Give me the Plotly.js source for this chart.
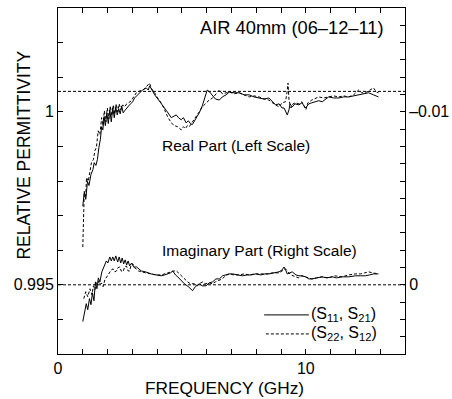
<!DOCTYPE html>
<html>
<head>
<meta charset="utf-8">
<script src="https://cdn.plot.ly/plotly-3.0.1.min.js"></script>
<style>html,body{margin:0;padding:0;background:#fff;}#chart{width:452px;height:399px;}</style>
</head>
<body>
<div id="chart"></div>
<script>
// ---- Data ----
// Real part, (S11,S21) solid, left scale
const freqRealA = [1.00,1.06,1.12,1.19,1.25,1.33,1.41,1.46,1.53,1.59,1.65,1.71,1.76,1.81,1.86,1.91,1.97,2.03,2.09,2.15,2.21,2.27,2.33,2.39,2.45,2.51,2.57,2.63,2.69,2.77,2.85,2.93,3.01,3.09,3.17,3.29,3.41,3.56,3.64,3.70,3.78,3.90,4.06,4.22,4.38,4.57,4.66,4.77,4.86,4.97,5.06,5.17,5.26,5.34,5.42,5.54,5.62,5.70,5.82,5.90,6.02,6.12,6.22,6.35,6.51,6.63,6.78,6.91,7.11,7.31,7.51,7.71,7.91,8.11,8.31,8.51,8.63,8.78,8.92,9.04,9.12,9.20,9.25,9.32,9.36,9.45,9.56,9.72,9.84,9.99,10.12,10.24,10.39,10.52,10.66,10.76,10.92,11.12,11.33,11.53,11.73,11.93,12.13,12.33,12.53,12.73,12.93];
const realA = [0.99727,0.99767,0.99747,0.99799,0.99787,0.99819,0.99833,0.99853,0.99845,0.99862,0.99897,0.99920,0.99957,0.99948,0.99986,0.99960,0.99997,0.99966,1.00006,0.99971,1.00011,0.99983,1.00014,0.99991,1.00009,0.99994,1.00017,0.99997,1.00003,1.00011,1.00017,1.00023,1.00029,1.00040,1.00046,1.00057,1.00063,1.00069,1.00063,1.00075,1.00063,1.00049,1.00034,1.00020,1.00003,0.99983,0.99986,0.99991,0.99983,0.99977,0.99983,0.99968,0.99974,0.99966,0.99963,0.99977,0.99986,0.99997,1.00017,1.00034,1.00063,1.00057,1.00049,1.00037,1.00034,1.00043,1.00049,1.00057,1.00055,1.00055,1.00049,1.00049,1.00043,1.00040,1.00037,1.00040,1.00032,1.00020,1.00023,1.00011,1.00011,1.00000,0.99991,1.00006,1.00023,1.00014,1.00023,1.00020,1.00026,1.00011,1.00023,1.00026,1.00029,1.00032,1.00029,1.00034,1.00043,1.00040,1.00040,1.00043,1.00043,1.00046,1.00049,1.00052,1.00055,1.00049,1.00043];
// Real part, (S22,S12) dashed, left scale
const freqRealB = [1.00,1.02,1.04,1.06,1.12,1.15,1.22,1.29,1.35,1.43,1.49,1.55,1.62,1.69,1.76,1.81,1.87,1.93,1.99,2.05,2.11,2.17,2.23,2.29,2.35,2.41,2.47,2.53,2.61,2.69,2.77,2.85,2.96,3.05,3.16,3.29,3.43,3.53,3.61,3.69,3.78,3.90,4.02,4.16,4.30,4.42,4.57,4.70,4.82,4.97,5.06,5.14,5.22,5.30,5.38,5.46,5.57,5.70,5.82,5.94,6.10,6.24,6.35,6.51,6.63,6.78,6.91,7.11,7.31,7.51,7.71,7.91,8.11,8.31,8.51,8.71,8.92,9.04,9.18,9.24,9.28,9.32,9.40,9.48,9.59,9.72,9.84,10.00,10.08,10.24,10.36,10.52,10.72,10.92,11.12,11.33,11.53,11.73,11.93,12.13,12.25,12.40,12.53,12.73,12.85,12.93];
const realB = [0.99609,0.99661,0.99718,0.99770,0.99756,0.99810,0.99799,0.99833,0.99853,0.99862,0.99888,0.99897,0.99945,0.99934,0.99983,0.99960,1.00003,0.99971,1.00011,0.99980,1.00017,0.99989,1.00020,0.99994,1.00023,1.00000,1.00023,1.00006,1.00020,1.00014,1.00023,1.00026,1.00032,1.00043,1.00055,1.00060,1.00063,1.00069,1.00075,1.00083,1.00066,1.00055,1.00040,1.00026,1.00006,0.99986,0.99968,0.99960,0.99957,0.99948,0.99957,0.99951,0.99960,0.99957,0.99966,0.99974,0.99986,1.00000,1.00014,1.00023,1.00034,1.00040,1.00049,1.00063,1.00052,1.00055,1.00057,1.00052,1.00055,1.00049,1.00043,1.00046,1.00043,1.00037,1.00034,1.00023,1.00014,1.00026,1.00029,1.00057,1.00083,1.00034,1.00011,1.00023,1.00026,1.00023,1.00029,1.00006,1.00026,1.00034,1.00037,1.00043,1.00040,1.00043,1.00046,1.00043,1.00046,1.00043,1.00049,1.00063,1.00055,1.00055,1.00060,1.00069,1.00057,1.00055];
// Imaginary part, (S11,S21) solid, right scale
const freqImagA = [1.00,1.08,1.14,1.20,1.27,1.33,1.39,1.45,1.51,1.57,1.63,1.69,1.77,1.85,1.89,1.95,2.01,2.09,2.15,2.21,2.27,2.33,2.41,2.47,2.53,2.59,2.65,2.71,2.77,2.83,2.89,2.97,3.05,3.17,3.36,3.53,3.76,3.94,4.16,4.30,4.42,4.54,4.63,4.74,4.83,4.98,5.10,5.26,5.43,5.54,5.70,5.82,5.97,6.10,6.24,6.37,6.51,6.64,6.75,6.91,7.04,7.23,7.44,7.63,7.79,7.98,8.19,8.35,8.51,8.71,8.92,9.04,9.12,9.20,9.25,9.36,9.45,9.60,9.72,9.84,9.99,10.12,10.25,10.44,10.65,10.84,11.06,11.24,11.46,11.73,12.00,12.21,12.40,12.57,12.73,12.93];
const imagA = [0.00213,0.00155,0.00109,0.00144,0.00080,0.00115,0.00046,0.00092,-0.00017,0.00023,-0.00040,-0.00017,-0.00075,-0.00103,-0.00121,-0.00138,-0.00126,-0.00161,-0.00138,-0.00161,-0.00138,-0.00167,-0.00132,-0.00161,-0.00126,-0.00155,-0.00121,-0.00144,-0.00115,-0.00138,-0.00109,-0.00126,-0.00103,-0.00103,-0.00080,-0.00075,-0.00063,-0.00057,-0.00052,-0.00057,-0.00063,-0.00069,-0.00080,-0.00057,-0.00046,-0.00023,-0.00006,0.00011,0.00034,0.00011,-0.00006,0.00006,0.00006,-0.00011,-0.00017,-0.00034,-0.00034,-0.00052,-0.00057,-0.00063,-0.00063,-0.00057,-0.00052,-0.00057,-0.00057,-0.00063,-0.00057,-0.00063,-0.00063,-0.00069,-0.00075,-0.00086,-0.00103,-0.00080,-0.00063,-0.00069,-0.00075,-0.00057,-0.00052,-0.00052,-0.00046,-0.00034,-0.00034,-0.00040,-0.00046,-0.00040,-0.00046,-0.00040,-0.00046,-0.00046,-0.00052,-0.00052,-0.00052,-0.00057,-0.00063,-0.00063];
// Imaginary part, (S22,S12) dashed, right scale
const freqImagB = [1.04,1.12,1.20,1.29,1.37,1.43,1.49,1.55,1.62,1.69,1.75,1.82,1.89,1.96,2.03,2.09,2.15,2.22,2.29,2.36,2.41,2.49,2.55,2.62,2.69,2.76,2.83,2.89,2.95,3.02,3.09,3.16,3.25,3.36,3.53,3.76,3.94,4.16,4.34,4.57,4.66,4.77,4.86,4.97,5.10,5.23,5.34,5.50,5.62,5.70,5.84,5.94,6.10,6.22,6.35,6.51,6.63,6.75,6.91,7.11,7.31,7.51,7.71,7.95,8.19,8.43,8.67,8.92,9.04,9.18,9.28,9.40,9.59,9.72,9.84,10.00,10.24,10.44,10.64,10.92,11.16,11.45,11.73,12.00,12.21,12.37,12.53,12.69,12.85,12.93];
const imagB = [0.00080,0.00040,0.00069,0.00023,0.00057,0.00006,0.00029,-0.00011,-0.00023,0.00000,-0.00011,0.00011,-0.00029,-0.00046,-0.00063,-0.00075,-0.00086,-0.00092,-0.00075,-0.00080,-0.00098,-0.00103,-0.00080,-0.00075,-0.00103,-0.00109,-0.00080,-0.00080,-0.00115,-0.00121,-0.00098,-0.00092,-0.00080,-0.00075,-0.00069,-0.00063,-0.00057,-0.00057,-0.00063,-0.00075,-0.00080,-0.00080,-0.00069,-0.00052,-0.00034,-0.00017,-0.00006,-0.00006,0.00006,-0.00006,-0.00017,-0.00006,-0.00011,-0.00006,-0.00017,-0.00029,-0.00034,-0.00052,-0.00063,-0.00057,-0.00057,-0.00063,-0.00057,-0.00063,-0.00063,-0.00063,-0.00069,-0.00069,-0.00080,-0.00092,-0.00075,-0.00057,-0.00046,-0.00040,-0.00052,-0.00046,-0.00034,-0.00040,-0.00046,-0.00040,-0.00052,-0.00046,-0.00057,-0.00063,-0.00063,-0.00069,-0.00075,-0.00069,-0.00063,-0.00063];

// Reference levels: air permittivity (left scale) and zero loss (left 0.995 = right 0)
const refLevels = [1.00059, 0.995];

// Axis ticks and labels
const xTickVals = [0, 10];
const xTickText = ['0', '10'];
const xMinorVals = [1,2,3,4,5,6,7,8,9,11,12,13];
const yTickVals = [0.995, 1.000];
const yTickText = ['0.995', '1'];
const yMinorVals = [0.993,0.994,0.996,0.997,0.998,0.999,1.001,1.002,1.003];
const y2TickVals = [-0.010, 0];
const y2TickText = ['–0.01', '0'];
const y2MinorVals = [-0.016,-0.015,-0.014,-0.013,-0.012,-0.011,-0.009,-0.008,-0.007,-0.006,-0.005,-0.004,-0.003,-0.002,-0.001,0.001,0.002,0.003,0.004];

const seriesNames = ['(S<sub>11</sub>, S<sub>21</sub>)', '(S<sub>22</sub>, S<sub>12</sub>)'];
const labels = {
  title: 'AIR 40mm (06–12–11)',
  real: 'Real Part (Left Scale)',
  imag: 'Imaginary Part (Right Scale)',
  xTitle: 'FREQUENCY (GHz)',
  yTitle: 'RELATIVE PERMITTIVITY'
};

// ---- Drawing ----
const FONT = 'Liberation Sans, Arial, Helvetica, sans-serif';
const DASH = '3px,2px';
const solid = {color:'#000', width:1};
const dashed = {color:'#000', width:1, dash:DASH};

const traces = [
  {x:freqRealA, y:realA, mode:'lines', line:solid, yaxis:'y', showlegend:false, hoverinfo:'skip'},
  {x:freqRealB, y:realB, mode:'lines', line:dashed, yaxis:'y', showlegend:false, hoverinfo:'skip'},
  {x:freqImagA, y:imagA, mode:'lines', line:solid, yaxis:'y2', showlegend:false, hoverinfo:'skip'},
  {x:freqImagB, y:imagB, mode:'lines', line:dashed, yaxis:'y2', showlegend:false, hoverinfo:'skip'}
];

const shapes = refLevels.map(v => ({
  type:'line', xref:'paper', x0:0, x1:1, yref:'y', y0:v, y1:v,
  line:{color:'#000', width:1, dash:DASH}, layer:'below'
}));
// legend samples
shapes.push({type:'line', xref:'paper', yref:'paper', x0:0.594, x1:0.723, y0:0.113, y1:0.113, line:{color:'#000', width:1}});
shapes.push({type:'line', xref:'paper', yref:'paper', x0:0.599, x1:0.723, y0:0.058, y1:0.058, line:{color:'#000', width:1, dash:DASH}});

const ann = (text, x, y, opts) => Object.assign({text, x, y, xref:'paper', yref:'paper', showarrow:false,
  font:{family:FONT, size:15, color:'#000'}, borderpad:0}, opts||{});

const annotations = [
  ann(labels.title, 0.943, 0.945, {xanchor:'right', yanchor:'middle', font:{family:FONT, size:18.3, color:'#000'}}),
  ann(labels.real, 0.296, 0.602, {xanchor:'left', yanchor:'middle', font:{family:FONT, size:15.5, color:'#000'}}),
  ann(labels.imag, 0.296, 0.299, {xanchor:'left', yanchor:'middle', font:{family:FONT, size:15.5, color:'#000'}}),
  ann(seriesNames[0], 0.727, 0.113, {xanchor:'left', yanchor:'middle', font:{family:FONT, size:16, color:'#000'}}),
  ann(seriesNames[1], 0.727, 0.058, {xanchor:'left', yanchor:'middle', font:{family:FONT, size:16, color:'#000'}}),
  ann(labels.xTitle, 0.481, -0.098, {xanchor:'center', yanchor:'middle', font:{family:FONT, size:17.3, color:'#000'}}),
  ann(labels.yTitle, -0.0965, 0.575, {xanchor:'center', yanchor:'middle', textangle:-90, font:{family:FONT, size:17.5, color:'#000'}})
];

const minorCommon = {tickmode:'array', ticks:'inside', ticklen:5, tickwidth:1, tickcolor:'#000', showgrid:false};
const axisCommon = {showgrid:false, zeroline:false, showline:true, linecolor:'#000', linewidth:1,
  ticks:'inside', ticklen:5, tickwidth:1, tickcolor:'#000', tickmode:'array',
  tickfont:{family:FONT, size:16, color:'#000'}};

const layout = {
  width:452, height:399,
  margin:{l:58, r:47, t:8, b:45, pad:0},
  paper_bgcolor:'#fff', plot_bgcolor:'#fff',
  showlegend:false,
  xaxis:Object.assign({}, axisCommon, {range:[0,14], tickvals:xTickVals, ticktext:xTickText, mirror:'ticks',
    minor:Object.assign({}, minorCommon, {tickvals:xMinorVals})}),
  yaxis:Object.assign({}, axisCommon, {range:[0.993,1.003], tickvals:yTickVals, ticktext:yTickText,
    minor:Object.assign({}, minorCommon, {tickvals:yMinorVals})}),
  yaxis2:Object.assign({}, axisCommon, {range:[0.004,-0.016], tickvals:y2TickVals, ticktext:y2TickText,
    overlaying:'y', side:'right', minor:Object.assign({}, minorCommon, {tickvals:y2MinorVals})}),
  shapes, annotations
};

Plotly.newPlot('chart', traces, layout, {staticPlot:true, displayModeBar:false});
</script>
</body>
</html>
